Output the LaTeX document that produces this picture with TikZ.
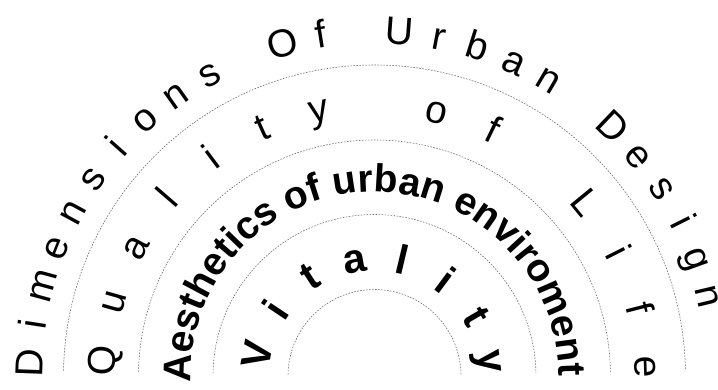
\documentclass[tikz,border=0pt]{standalone}
\usepackage{fontspec}
\setmainfont{Liberation Sans}
\usetikzlibrary{decorations.text}
\tikzset{
  arcline/.style={draw=black!60, line width=0.55pt, dash pattern=on 1.6pt off 1.4pt},
  ringone/.style={font=\fontsize{39}{40}\selectfont, anchor=base, inner sep=0pt},
  ringtwo/.style={font=\fontsize{39}{40}\selectfont, anchor=base, inner sep=0pt},
  ringfour/.style={font=\bfseries\fontsize{41}{42}\selectfont, anchor=base, inner sep=0pt}
}
\begin{document}
\begin{tikzpicture}[x=1pt,y=1pt]
\fill[white] (-374.5,-13) rectangle (343.5,376);
\useasboundingbox (-374.5,-13) rectangle (343.5,376);
% guide arcs
\foreach \r in {86.5,161.5,236,311}{
  \draw[arcline] (179:\r) arc[start angle=179, end angle=1, radius=\r];
}
% ring 1: Dimensions Of Urban Design
\foreach \k/\ch in {0/D,1/i,2/m,3/e,4/n,5/s,6/i,7/o,8/n,9/s,11/O,12/f,14/U,15/r,16/b,17/a,18/n,20/D,21/e,22/s,23/i,24/g,25/n}{
  \pgfmathsetmacro{\ang}{177.9-6.58*\k}
  \node[ringone, rotate=\ang-90] (d\k) at (\ang:332) {\ch};
}
% ring 2: Quality of Life
\foreach \k/\ch in {0/Q,1/u,2/a,3/l,4/i,5/t,6/y,8/o,9/f,11/L,12/i,13/f,14/e}{
  \pgfmathsetmacro{\ang}{176.7-12.49*\k}
  \node[ringtwo, rotate=\ang-90] (q\k) at (\ang:260) {\ch};
}
% ring 3: Aesthetics of urban enviroment
\path[decorate, decoration={text along path, text align=center,
  text={|\bfseries\fontsize{39}{41}\selectfont|Aesthetics of urban enviroment}}]
  (186:184) arc[start angle=186, end angle=-4, radius=184];
% ring 4: Vitality
\foreach \k/\ch in {0/V,1/i,2/t,3/a,4/l,5/i,6/t,7/y}{
  \pgfmathsetmacro{\ang}{169.4-23.2*\k}
  \node[ringfour, rotate=\ang-90] (v\k) at (\ang:105) {\ch};
}
\end{tikzpicture}
\end{document}
